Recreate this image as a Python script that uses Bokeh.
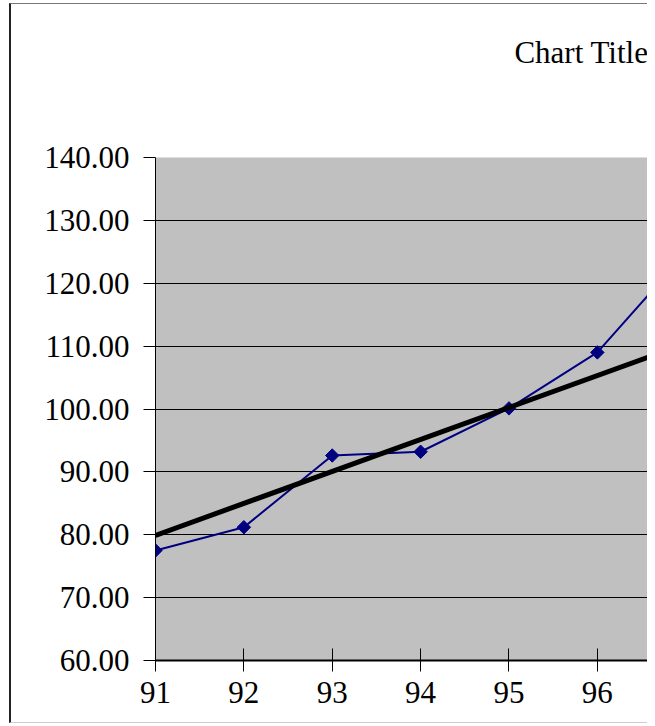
import math
from bokeh.plotting import figure
from bokeh.models import Range1d, FixedTicker, NumeralTickFormatter, Title
from bokeh.embed import file_html
from bokeh.resources import INLINE

# ---- data ----
years = [91, 92, 93, 94, 95, 96, 97]
values = [77.5, 81.2, 92.6, 93.2, 100.1, 109.0, 124.8]
trend_years = [91, 97]
trend_values = [79.9, 110.4]
y_ticks = [60, 70, 80, 90, 100, 110, 120, 130, 140]
x_ticks = [91, 92, 93, 94, 95, 96, 97]
title_text = "Chart Title"

FONT = "Liberation Serif"
FSIZE = "31px"

X_START, X_END = 91, 96.59
Y_START, Y_END = 60, 140

p = figure(
    width=638, height=720,
    x_range=Range1d(X_START, X_END), y_range=Range1d(Y_START, Y_END),
    output_backend="svg", toolbar_location=None,
    title_location=None,
    min_border_left=144, min_border_right=0,
    min_border_top=153, min_border_bottom=64,
    background_fill_color="#C0C0C0",
    border_fill_color="white",
    outline_line_color=None,
    margin=(3, 0, 0, 9),
    styles={"border-left": "2px solid #222222",
            "border-top": "1px solid #777777",
            "border-bottom": "1px solid #cccccc"},
)

# spacer between plot area and title (closest to the frame)
p.add_layout(Title(text=" ", text_font_size="1px", standoff=80), "above")
# the chart title (placed outside the spacer)
p.add_layout(Title(text=title_text, align="right", text_font=FONT,
                   text_font_size=FSIZE, text_font_style="normal",
                   text_color="black", standoff=10, offset=1), "above")

# grid
p.xgrid.visible = False
p.ygrid.ticker = FixedTicker(ticks=y_ticks)
p.ygrid.grid_line_color = "black"
p.ygrid.grid_line_width = 1

# y axis
p.yaxis.ticker = FixedTicker(ticks=y_ticks)
p.yaxis.formatter = NumeralTickFormatter(format="0.00")
p.yaxis.axis_line_color = "black"
p.yaxis.axis_line_width = 1
p.yaxis.major_tick_in = 0
p.yaxis.major_tick_out = 12
p.yaxis.major_tick_line_color = "black"
p.yaxis.minor_tick_line_color = None
p.yaxis.major_label_standoff = 14
p.yaxis.major_label_text_font = FONT
p.yaxis.major_label_text_font_size = FSIZE
p.yaxis.major_label_text_color = "black"

# x axis
p.xaxis.ticker = FixedTicker(ticks=x_ticks)
p.xaxis.axis_line_color = "black"
p.xaxis.axis_line_width = 2
p.xaxis.major_tick_in = 12
p.xaxis.major_tick_out = 11
p.xaxis.major_tick_line_color = "black"
p.xaxis.minor_tick_line_color = None
p.xaxis.major_label_standoff = 10
p.xaxis.major_label_text_font = FONT
p.xaxis.major_label_text_font_size = FSIZE
p.xaxis.major_label_text_color = "black"

# series
p.line(years, values, line_color="#000080", line_width=2)
p.scatter(years, values, marker="square", size=9.5, angle=math.pi / 4,
          fill_color="#000080", line_color="#000080")

# trend line
p.line(trend_years, trend_values, line_color="black", line_width=5)

open("out.html", "w").write(file_html(p, INLINE))
